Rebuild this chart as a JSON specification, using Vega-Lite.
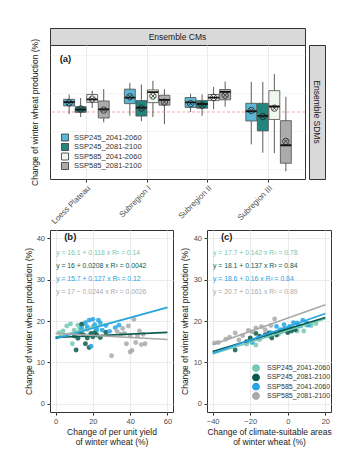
{
  "$schema": "https://vega.github.io/schema/vega-lite/v6.json",
  "padding": {"left": 23, "top": 27, "right": 5, "bottom": 2},
  "background": "white",
  "spacing": 2,
  "resolve": {"scale": {"fill": "independent", "color": "independent"}, "legend": {"fill": "independent", "color": "independent"}},
  "config": {
    "font": "Liberation Sans",
    "view": {"stroke": "#333333", "strokeWidth": 1},
    "axis": {"domain": false, "grid": true, "gridColor": "#ebebeb", "tickColor": "#333333", "tickSize": 3, "labelColor": "#4d4d4d", "titleColor": "#1a1a1a", "labelFontSize": 8, "titleFontSize": 8.5, "titleFontWeight": "normal"},
    "legend": {"labelColor": "#333333"}
  },
  "datasets": {
    "boxes": [
      {"region": "Loess Plateau", "scenario": "SSP245_2041-2060", "lo": -2.6, "q1": 8, "med": 13, "q3": 16.7, "hi": 23, "mean": 12},
      {"region": "Loess Plateau", "scenario": "SSP245_2081-2100", "lo": -6.6, "q1": -0.4, "med": 3, "q3": 7, "hi": 18.4, "mean": 4},
      {"region": "Loess Plateau", "scenario": "SSP585_2041-2060", "lo": 5.3, "q1": 12.7, "med": 16.7, "q3": 23, "hi": 28, "mean": 17},
      {"region": "Loess Plateau", "scenario": "SSP585_2081-2100", "lo": -13.6, "q1": -7.9, "med": 3.5, "q3": 14.5, "hi": 30, "mean": 2.5},
      {"region": "Subregion I", "scenario": "SSP245_2041-2060", "lo": -4.8, "q1": 11, "med": 19, "q3": 30, "hi": 38, "mean": 20},
      {"region": "Subregion I", "scenario": "SSP245_2081-2100", "lo": -12, "q1": -5.3, "med": 5.7, "q3": 15, "hi": 36, "mean": 5},
      {"region": "Subregion I", "scenario": "SSP585_2041-2060", "lo": -6.6, "q1": 12.3, "med": 26, "q3": 29, "hi": 41, "mean": 21},
      {"region": "Subregion I", "scenario": "SSP585_2081-2100", "lo": -16, "q1": 9, "med": 16, "q3": 22, "hi": 30, "mean": 13},
      {"region": "Subregion II", "scenario": "SSP245_2041-2060", "lo": 0, "q1": 6, "med": 12.7, "q3": 19, "hi": 24, "mean": 11},
      {"region": "Subregion II", "scenario": "SSP245_2081-2100", "lo": -5, "q1": 5, "med": 10.5, "q3": 15, "hi": 23, "mean": 9},
      {"region": "Subregion II", "scenario": "SSP585_2041-2060", "lo": 3.5, "q1": 15, "med": 19, "q3": 23, "hi": 33, "mean": 19},
      {"region": "Subregion II", "scenario": "SSP585_2081-2100", "lo": 7, "q1": 16, "med": 26.5, "q3": 29.5, "hi": 40, "mean": 22},
      {"region": "Subregion III", "scenario": "SSP245_2041-2060", "lo": -42.5, "q1": -11.8, "med": 1, "q3": 11.4, "hi": 39.5, "mean": 2},
      {"region": "Subregion III", "scenario": "SSP245_2081-2100", "lo": -53.5, "q1": -24.8, "med": -5, "q3": 11.4, "hi": 39.5, "mean": -6},
      {"region": "Subregion III", "scenario": "SSP585_2041-2060", "lo": -54, "q1": -9.8, "med": 7.2, "q3": 28, "hi": 50, "mean": 5},
      {"region": "Subregion III", "scenario": "SSP585_2081-2100", "lo": -78, "q1": -67.3, "med": -43.7, "q3": -11.4, "hi": 20, "mean": -38.6}
    ],
    "pb": [
      {"s": "SSP245_2041-2060", "x": 2, "y": 17.2}, {"s": "SSP245_2041-2060", "x": 4, "y": 17.6}, {"s": "SSP245_2041-2060", "x": 6, "y": 18.8}, {"s": "SSP245_2041-2060", "x": 8, "y": 19.3}, {"s": "SSP245_2041-2060", "x": 9, "y": 14.5}, {"s": "SSP245_2041-2060", "x": 10, "y": 17.8}, {"s": "SSP245_2041-2060", "x": 11, "y": 16.8}, {"s": "SSP245_2041-2060", "x": 12, "y": 19.0}, {"s": "SSP245_2041-2060", "x": 13, "y": 18.2}, {"s": "SSP245_2041-2060", "x": 14, "y": 17.5}, {"s": "SSP245_2041-2060", "x": 15, "y": 19.2}, {"s": "SSP245_2041-2060", "x": 17, "y": 18.0}, {"s": "SSP245_2041-2060", "x": 18, "y": 16.5}, {"s": "SSP245_2041-2060", "x": 20, "y": 18.6}, {"s": "SSP245_2041-2060", "x": 22, "y": 17.6},
      {"s": "SSP245_2081-2100", "x": 10, "y": 16.4}, {"s": "SSP245_2081-2100", "x": 11, "y": 13.0}, {"s": "SSP245_2081-2100", "x": 12, "y": 15.8}, {"s": "SSP245_2081-2100", "x": 13, "y": 17.2}, {"s": "SSP245_2081-2100", "x": 14, "y": 19.2}, {"s": "SSP245_2081-2100", "x": 15, "y": 16.6}, {"s": "SSP245_2081-2100", "x": 16, "y": 14.5}, {"s": "SSP245_2081-2100", "x": 17, "y": 15.9}, {"s": "SSP245_2081-2100", "x": 18, "y": 13.6}, {"s": "SSP245_2081-2100", "x": 19, "y": 17.0}, {"s": "SSP245_2081-2100", "x": 20, "y": 16.2}, {"s": "SSP245_2081-2100", "x": 21, "y": 17.2}, {"s": "SSP245_2081-2100", "x": 22, "y": 16.6}, {"s": "SSP245_2081-2100", "x": 24, "y": 16.0}, {"s": "SSP245_2081-2100", "x": 27, "y": 17.3},
      {"s": "SSP585_2041-2060", "x": 14, "y": 18.2}, {"s": "SSP585_2041-2060", "x": 16, "y": 19.6}, {"s": "SSP585_2041-2060", "x": 17, "y": 18.6}, {"s": "SSP585_2041-2060", "x": 18, "y": 20.2}, {"s": "SSP585_2041-2060", "x": 19, "y": 13.9}, {"s": "SSP585_2041-2060", "x": 20, "y": 20.4}, {"s": "SSP585_2041-2060", "x": 21, "y": 19.1}, {"s": "SSP585_2041-2060", "x": 22, "y": 18.0}, {"s": "SSP585_2041-2060", "x": 23, "y": 20.2}, {"s": "SSP585_2041-2060", "x": 24, "y": 19.5}, {"s": "SSP585_2041-2060", "x": 25, "y": 17.8}, {"s": "SSP585_2041-2060", "x": 27, "y": 18.9}, {"s": "SSP585_2041-2060", "x": 29, "y": 17.5}, {"s": "SSP585_2041-2060", "x": 32, "y": 18.4}, {"s": "SSP585_2041-2060", "x": 34, "y": 19.0},
      {"s": "SSP585_2081-2100", "x": 30, "y": 11.6}, {"s": "SSP585_2081-2100", "x": 33, "y": 17.5}, {"s": "SSP585_2081-2100", "x": 35, "y": 16.8}, {"s": "SSP585_2081-2100", "x": 36, "y": 18.2}, {"s": "SSP585_2081-2100", "x": 37, "y": 17.0}, {"s": "SSP585_2081-2100", "x": 38, "y": 14.5}, {"s": "SSP585_2081-2100", "x": 39, "y": 18.8}, {"s": "SSP585_2081-2100", "x": 40, "y": 12.5}, {"s": "SSP585_2081-2100", "x": 40, "y": 16.4}, {"s": "SSP585_2081-2100", "x": 41, "y": 12.9}, {"s": "SSP585_2081-2100", "x": 42, "y": 20.4}, {"s": "SSP585_2081-2100", "x": 43, "y": 14.8}, {"s": "SSP585_2081-2100", "x": 44, "y": 16.4}, {"s": "SSP585_2081-2100", "x": 45, "y": 17.6}, {"s": "SSP585_2081-2100", "x": 46, "y": 14.3}, {"s": "SSP585_2081-2100", "x": 47, "y": 16.8}, {"s": "SSP585_2081-2100", "x": 48, "y": 14.5}
    ],
    "pc": [
      {"s": "SSP245_2041-2060", "x": -22, "y": 14.4}, {"s": "SSP245_2041-2060", "x": -20, "y": 15.6}, {"s": "SSP245_2041-2060", "x": -17, "y": 14.2}, {"s": "SSP245_2041-2060", "x": -15, "y": 15.5}, {"s": "SSP245_2041-2060", "x": -10, "y": 16.4}, {"s": "SSP245_2041-2060", "x": -5, "y": 16.8}, {"s": "SSP245_2041-2060", "x": -3, "y": 17.4}, {"s": "SSP245_2041-2060", "x": 0, "y": 17.2}, {"s": "SSP245_2041-2060", "x": 1, "y": 17.8}, {"s": "SSP245_2041-2060", "x": 3, "y": 18.4}, {"s": "SSP245_2041-2060", "x": 5, "y": 17.6}, {"s": "SSP245_2041-2060", "x": 7, "y": 18.8}, {"s": "SSP245_2041-2060", "x": 8.5, "y": 17.6}, {"s": "SSP245_2041-2060", "x": 10, "y": 19.0}, {"s": "SSP245_2041-2060", "x": 12.5, "y": 18.9}, {"s": "SSP245_2041-2060", "x": 15, "y": 19.4},
      {"s": "SSP245_2081-2100", "x": -28, "y": 13.0}, {"s": "SSP245_2081-2100", "x": -22, "y": 15.0}, {"s": "SSP245_2081-2100", "x": -20, "y": 15.9}, {"s": "SSP245_2081-2100", "x": -17, "y": 17.0}, {"s": "SSP245_2081-2100", "x": -15, "y": 16.3}, {"s": "SSP245_2081-2100", "x": -12, "y": 16.7}, {"s": "SSP245_2081-2100", "x": -10, "y": 17.1}, {"s": "SSP245_2081-2100", "x": -8.5, "y": 15.9}, {"s": "SSP245_2081-2100", "x": -6, "y": 16.6}, {"s": "SSP245_2081-2100", "x": -4, "y": 17.5}, {"s": "SSP245_2081-2100", "x": -2, "y": 17.9}, {"s": "SSP245_2081-2100", "x": 0, "y": 17.2}, {"s": "SSP245_2081-2100", "x": 2, "y": 17.6}, {"s": "SSP245_2081-2100", "x": 4, "y": 17.9},
      {"s": "SSP585_2041-2060", "x": -19, "y": 14.8}, {"s": "SSP585_2041-2060", "x": -16, "y": 15.8}, {"s": "SSP585_2041-2060", "x": -12, "y": 16.4}, {"s": "SSP585_2041-2060", "x": -9, "y": 17.2}, {"s": "SSP585_2041-2060", "x": -6, "y": 18.7}, {"s": "SSP585_2041-2060", "x": -4, "y": 17.9}, {"s": "SSP585_2041-2060", "x": -2, "y": 19.1}, {"s": "SSP585_2041-2060", "x": 0, "y": 18.2}, {"s": "SSP585_2041-2060", "x": 1, "y": 18.7}, {"s": "SSP585_2041-2060", "x": 3, "y": 19.6}, {"s": "SSP585_2041-2060", "x": 5, "y": 19.5}, {"s": "SSP585_2041-2060", "x": 6, "y": 18.8}, {"s": "SSP585_2041-2060", "x": 8, "y": 20.2}, {"s": "SSP585_2041-2060", "x": 10, "y": 19.6}, {"s": "SSP585_2041-2060", "x": 11, "y": 19.0},
      {"s": "SSP585_2081-2100", "x": -39, "y": 14.7}, {"s": "SSP585_2081-2100", "x": -37, "y": 14.8}, {"s": "SSP585_2081-2100", "x": -33, "y": 15.6}, {"s": "SSP585_2081-2100", "x": -31, "y": 16.1}, {"s": "SSP585_2081-2100", "x": -28, "y": 17.1}, {"s": "SSP585_2081-2100", "x": -26, "y": 15.4}, {"s": "SSP585_2081-2100", "x": -24, "y": 16.5}, {"s": "SSP585_2081-2100", "x": -21, "y": 17.7}, {"s": "SSP585_2081-2100", "x": -19, "y": 17.4}, {"s": "SSP585_2081-2100", "x": -17, "y": 18.3}, {"s": "SSP585_2081-2100", "x": -14, "y": 18.6}, {"s": "SSP585_2081-2100", "x": -12, "y": 17.9}, {"s": "SSP585_2081-2100", "x": -9, "y": 18.9}, {"s": "SSP585_2081-2100", "x": -7, "y": 20.5}
    ],
    "lb": [
      {"s": "SSP245_2041-2060", "x": 0, "y": 16.1}, {"s": "SSP245_2041-2060", "x": 60, "y": 23.18},
      {"s": "SSP245_2081-2100", "x": 0, "y": 16.0}, {"s": "SSP245_2081-2100", "x": 60, "y": 17.25},
      {"s": "SSP585_2041-2060", "x": 0, "y": 15.7}, {"s": "SSP585_2041-2060", "x": 60, "y": 23.32},
      {"s": "SSP585_2081-2100", "x": 0, "y": 17.0}, {"s": "SSP585_2081-2100", "x": 60, "y": 15.54}
    ],
    "lc": [
      {"s": "SSP245_2041-2060", "x": -40, "y": 12.02}, {"s": "SSP245_2041-2060", "x": 20, "y": 20.54},
      {"s": "SSP245_2081-2100", "x": -40, "y": 12.62}, {"s": "SSP245_2081-2100", "x": 20, "y": 20.84},
      {"s": "SSP585_2041-2060", "x": -40, "y": 12.2}, {"s": "SSP585_2041-2060", "x": 20, "y": 21.8},
      {"s": "SSP585_2081-2100", "x": -40, "y": 14.26}, {"s": "SSP585_2081-2100", "x": 20, "y": 23.92}
    ],
    "eb": [
      {"s": "SSP245_2041-2060", "y": 36.5, "t": "y = 16.1 + 0.118 x   R² = 0.14"},
      {"s": "SSP245_2081-2100", "y": 33.3, "t": "y = 16 + 0.0208 x   R² = 0.0042"},
      {"s": "SSP585_2041-2060", "y": 30.2, "t": "y = 15.7 + 0.127 x   R² = 0.12"},
      {"s": "SSP585_2081-2100", "y": 27.1, "t": "y = 17 − 0.0244 x   R² = 0.0026"}
    ],
    "ec": [
      {"s": "SSP245_2041-2060", "y": 36.5, "t": "y = 17.7 + 0.142 x   R² = 0.78"},
      {"s": "SSP245_2081-2100", "y": 33.3, "t": "y = 18.1 + 0.137 x   R² = 0.84"},
      {"s": "SSP585_2041-2060", "y": 30.2, "t": "y = 18.6 + 0.16 x   R² = 0.84"},
      {"s": "SSP585_2081-2100", "y": 27.1, "t": "y = 20.7 + 0.161 x   R² = 0.89"}
    ]
  },
  "vconcat": [
    {
      "spacing": 2,
      "resolve": {"scale": {"fill": "independent", "color": "independent"}, "legend": {"fill": "independent", "color": "independent"}},
      "hconcat": [
        {
          "spacing": 0,
          "bounds": "flush",
          "resolve": {"scale": {"fill": "independent", "color": "independent"}, "legend": {"fill": "independent", "color": "independent"}},
          "vconcat": [
            {
              "width": 255, "height": 17,
              "view": {"fill": "#d9d9d9", "stroke": "#333333"},
              "data": {"values": [{"t": "Ensemble CMs"}]},
              "mark": {"type": "text", "fontSize": 8.5, "color": "#1a1a1a"},
              "encoding": {"text": {"field": "t"}}
            },
            {
              "width": 255, "height": 134,
              "layer": [
                {
                  "data": {"values": [{"v": 0}]},
                  "mark": {"type": "rule", "color": "#e8837e", "strokeDash": [3, 2], "strokeWidth": 0.7},
                  "encoding": {
                    "y": {"field": "v", "type": "quantitative", "title": "Change of winter wheat production (%)",
                      "scale": {"domain": [-88, 88], "nice": false, "zero": false},
                      "axis": {"values": [-75, -50, -25, 0, 25, 50, 75], "labelExpr": "datum.value % 50 === 0 ? datum.label : ''",
                        "tickSize": {"condition": {"test": "datum.value % 50 !== 0", "value": 0}, "value": 3},
                        "gridWidth": {"condition": {"test": "datum.value % 50 !== 0", "value": 0.5}, "value": 1},
                        "titlePadding": 8.6, "labelPadding": 2}}
                  }
                },
                {
                  "data": {"name": "boxes"},
                  "mark": {"type": "rule", "color": "#5c5c5c", "strokeWidth": 1},
                  "encoding": {
                    "x": {"field": "region", "type": "nominal", "sort": ["Loess Plateau", "Subregion I", "Subregion II", "Subregion III"], "title": null, "scale": {"paddingInner": 0.25, "paddingOuter": 0.225}, "axis": {"bandPosition": 0.5, "grid": true, "gridWidth": 1, "labelAngle": -45, "labelAlign": "right", "labelBaseline": "top", "labelPadding": 2}},
                    "xOffset": {"field": "scenario", "type": "nominal", "scale": {"paddingInner": 0.05, "paddingOuter": 0}},
                    "y": {"field": "lo", "type": "quantitative", "title": "Change of winter wheat production (%)"},
                    "y2": {"field": "hi"}
                  }
                },
                {
                  "data": {"name": "boxes"},
                  "mark": {"type": "bar", "stroke": "#4d4d4d", "strokeWidth": 0.8},
                  "encoding": {
                    "x": {"field": "region", "type": "nominal", "sort": ["Loess Plateau", "Subregion I", "Subregion II", "Subregion III"], "title": null},
                    "xOffset": {"field": "scenario", "type": "nominal"},
                    "y": {"field": "q1", "type": "quantitative", "title": "Change of winter wheat production (%)"},
                    "y2": {"field": "q3"},
                    "fill": {"field": "scenario", "type": "nominal",
                      "scale": {"domain": ["SSP245_2041-2060", "SSP245_2081-2100", "SSP585_2041-2060", "SSP585_2081-2100"], "range": ["#5ab8d4", "#22857e", "#f1f9ee", "#ababab"]},
                      "legend": {"title": null, "orient": "none", "legendX": 11, "legendY": 88, "symbolType": "square", "symbolSize": 49, "symbolStrokeColor": "#333333", "symbolStrokeWidth": 0.8, "labelFontSize": 7.5, "labelColor": "#333333", "rowPadding": 0.5, "clipHeight": 9, "labelOffset": 5, "padding": 0}}
                  }
                },
                {
                  "data": {"name": "boxes"},
                  "mark": {"type": "bar", "stroke": "#111111", "strokeWidth": 1.8, "fill": null},
                  "encoding": {
                    "x": {"field": "region", "type": "nominal", "sort": ["Loess Plateau", "Subregion I", "Subregion II", "Subregion III"], "title": null},
                    "xOffset": {"field": "scenario", "type": "nominal"},
                    "y": {"field": "med", "type": "quantitative", "title": "Change of winter wheat production (%)"},
                    "y2": {"field": "med"}
                  }
                },
                {
                  "data": {"name": "boxes"},
                  "mark": {"type": "point", "shape": "M-1,0A1,1,0,1,1,1,0A1,1,0,1,1,-1,0ZM-0.707,-0.707L0.707,0.707M-0.707,0.707L0.707,-0.707", "size": 40, "filled": false, "stroke": "#222222", "strokeWidth": 0.8, "opacity": 1},
                  "encoding": {
                    "x": {"field": "region", "type": "nominal", "sort": ["Loess Plateau", "Subregion I", "Subregion II", "Subregion III"], "title": null},
                    "xOffset": {"field": "scenario", "type": "nominal"},
                    "y": {"field": "mean", "type": "quantitative", "title": "Change of winter wheat production (%)"}
                  }
                },
                {
                  "data": {"values": [{"t": "(a)"}]},
                  "mark": {"type": "text", "fontWeight": "bold", "fontSize": 9.5, "align": "left", "dx": -4, "color": "#1a1a1a"},
                  "encoding": {
                    "x": {"datum": "Loess Plateau", "type": "nominal", "bandPosition": 0},
                    "y": {"datum": 70, "type": "quantitative"},
                    "text": {"field": "t"}
                  }
                }
              ]
            }
          ]
        },
        {
          "spacing": 0,
          "bounds": "flush",
          "vconcat": [
            {
              "width": 16, "height": 17,
              "view": {"stroke": null},
              "data": {"values": [{"t": ""}]},
              "mark": {"type": "text"},
              "encoding": {"text": {"field": "t"}}
            },
            {
              "width": 16, "height": 134,
              "view": {"fill": "#d9d9d9", "stroke": "#333333"},
              "data": {"values": [{"t": "Ensemble SDMs"}]},
              "mark": {"type": "text", "angle": 90, "fontSize": 8.5, "color": "#1a1a1a"},
              "encoding": {"text": {"field": "t"}}
            }
          ]
        }
      ]
    },
    {
      "spacing": 5,
      "resolve": {"scale": {"fill": "independent", "color": "independent"}, "legend": {"fill": "independent", "color": "independent"}},
      "hconcat": [
        {
          "width": 123, "height": 182,
          "layer": [
            {
              "data": {"name": "pb"},
              "mark": {"type": "circle", "size": 24, "opacity": 0.85},
              "encoding": {
                "x": {"field": "x", "type": "quantitative", "title": ["Change of per unit yield", "of winter wheat (%)"],
                  "scale": {"domain": [-3, 63], "nice": false, "zero": false},
                  "axis": {"values": [0, 10, 20, 30, 40, 50, 60], "labelExpr": "datum.value % 20 === 0 ? datum.label : ''",
                    "tickSize": {"condition": {"test": "datum.value % 20 !== 0", "value": 0}, "value": 3},
                    "gridWidth": {"condition": {"test": "datum.value % 20 !== 0", "value": 0.5}, "value": 1},
                    "labelFontSize": 7.5, "labelPadding": 2, "titlePadding": 3, "titleLineHeight": 9.5}},
                "y": {"field": "y", "type": "quantitative", "title": "Change of winter wheat production (%)",
                  "scale": {"domain": [-2, 42], "nice": false, "zero": false},
                  "axis": {"values": [0, 5, 10, 15, 20, 25, 30, 35, 40], "labelExpr": "datum.value % 10 === 0 ? datum.label : ''",
                    "tickSize": {"condition": {"test": "datum.value % 10 !== 0", "value": 0}, "value": 3},
                    "gridWidth": {"condition": {"test": "datum.value % 10 !== 0", "value": 0.5}, "value": 1},
                    "labelFontSize": 7.5, "labelPadding": 2.5, "titlePadding": 3}},
                "color": {"field": "s", "type": "nominal",
                  "scale": {"domain": ["SSP245_2041-2060", "SSP245_2081-2100", "SSP585_2041-2060", "SSP585_2081-2100"], "range": ["#74c8b4", "#0a5a4e", "#26a4e6", "#a9a9a9"]},
                  "legend": null}
              }
            },
            {
              "data": {"name": "lb"},
              "mark": {"type": "line", "strokeWidth": 1.6},
              "encoding": {
                "x": {"field": "x", "type": "quantitative"},
                "y": {"field": "y", "type": "quantitative"},
                "color": {"field": "s", "type": "nominal", "legend": null}
              }
            },
            {
              "data": {"name": "eb"},
              "mark": {"type": "text", "align": "left", "baseline": "middle", "fontSize": 6.8},
              "encoding": {
                "x": {"datum": 0.3},
                "y": {"field": "y", "type": "quantitative"},
                "text": {"field": "t"},
                "color": {"field": "s", "type": "nominal", "legend": null}
              }
            },
            {
              "data": {"values": [{"t": "(b)"}]},
              "mark": {"type": "text", "fontWeight": "bold", "fontSize": 9.5, "align": "left", "color": "#1a1a1a"},
              "encoding": {
                "x": {"datum": 4.6},
                "y": {"datum": 40.2},
                "text": {"field": "t"}
              }
            }
          ]
        },
        {
          "width": 124, "height": 182,
          "layer": [
            {
              "data": {"name": "pc"},
              "mark": {"type": "circle", "size": 24, "opacity": 0.85},
              "encoding": {
                "x": {"field": "x", "type": "quantitative", "title": ["Change of climate-suitable areas", "of winter wheat (%)"],
                  "scale": {"domain": [-43, 23], "nice": false, "zero": false},
                  "axis": {"values": [-40, -30, -20, -10, 0, 10, 20], "labelExpr": "datum.value % 20 === 0 ? datum.label : ''",
                    "tickSize": {"condition": {"test": "datum.value % 20 !== 0", "value": 0}, "value": 3},
                    "gridWidth": {"condition": {"test": "datum.value % 20 !== 0", "value": 0.5}, "value": 1},
                    "labelFontSize": 7.5, "labelPadding": 2, "titlePadding": 3, "titleLineHeight": 9.5}},
                "y": {"field": "y", "type": "quantitative", "title": "Change of winter wheat production (%)",
                  "scale": {"domain": [-2, 42], "nice": false, "zero": false},
                  "axis": {"values": [0, 5, 10, 15, 20, 25, 30, 35, 40], "labelExpr": "datum.value % 10 === 0 ? datum.label : ''",
                    "tickSize": {"condition": {"test": "datum.value % 10 !== 0", "value": 0}, "value": 3},
                    "gridWidth": {"condition": {"test": "datum.value % 10 !== 0", "value": 0.5}, "value": 1},
                    "labelFontSize": 7.5, "labelPadding": 2.5, "titlePadding": 4}},
                "color": {"field": "s", "type": "nominal",
                  "scale": {"domain": ["SSP245_2041-2060", "SSP245_2081-2100", "SSP585_2041-2060", "SSP585_2081-2100"], "range": ["#74c8b4", "#0a5a4e", "#26a4e6", "#a9a9a9"]},
                  "legend": {"title": null, "orient": "none", "legendX": 45, "legendY": 134, "symbolType": "circle", "symbolSize": 40, "symbolOpacity": 1, "labelFontSize": 7, "labelColor": "#333333", "rowPadding": 0.3, "clipHeight": 8.2, "labelOffset": 7, "padding": 0}}
              }
            },
            {
              "data": {"name": "lc"},
              "mark": {"type": "line", "strokeWidth": 1.6},
              "encoding": {
                "x": {"field": "x", "type": "quantitative"},
                "y": {"field": "y", "type": "quantitative"},
                "color": {"field": "s", "type": "nominal"}
              }
            },
            {
              "data": {"name": "ec"},
              "mark": {"type": "text", "align": "left", "baseline": "middle", "fontSize": 6.8},
              "encoding": {
                "x": {"datum": -39.8},
                "y": {"field": "y", "type": "quantitative"},
                "text": {"field": "t"},
                "color": {"field": "s", "type": "nominal"}
              }
            },
            {
              "data": {"values": [{"t": "(c)"}]},
              "mark": {"type": "text", "fontWeight": "bold", "fontSize": 9.5, "align": "left", "color": "#1a1a1a"},
              "encoding": {
                "x": {"datum": -35.6},
                "y": {"datum": 40.2},
                "text": {"field": "t"}
              }
            }
          ]
        }
      ]
    }
  ]
}
